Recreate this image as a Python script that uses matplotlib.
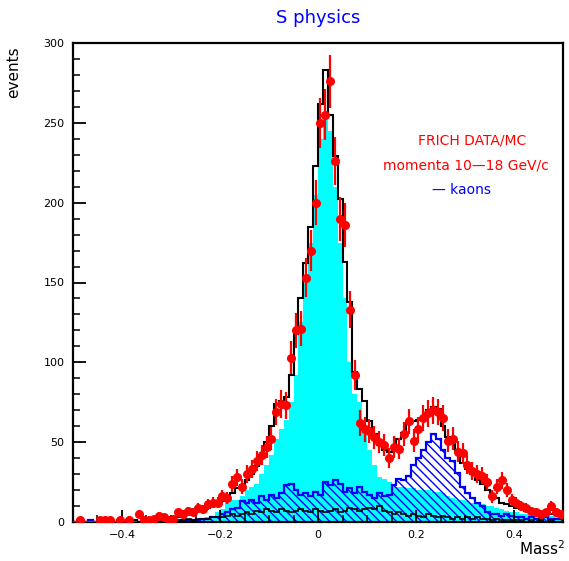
import numpy as np
import matplotlib
matplotlib.use("Agg")
import matplotlib.pyplot as plt
from matplotlib.ticker import MultipleLocator

# ---- data (100 bins of Mass^2 from -0.5 to 0.5) ----
x_range = (-0.5, 0.5)
n_bins = 100

data_counts = [
    0, 1, 0, 0, 0, 1, 1, 1, 0, 1,
    0, 1, 0, 5, 1, 1, 2, 4, 3, 1,
    2, 6, 5, 7, 6, 9, 8, 11, 12, 12,
    16, 15, 24, 28, 22, 30, 33, 38, 42, 47,
    52, 69, 74, 73, 103, 120, 121, 153, 170, 200,
    250, 255, 276, 226, 190, 186, 133, 92, 62, 58,
    57, 53, 50, 48, 40, 47, 46, 55, 63, 51,
    58, 65, 68, 70, 69, 65, 51, 52, 44, 43,
    36, 32, 30, 29, 25, 16, 22, 26, 20, 14,
    12, 10, 9, 7, 6, 5, 6, 10, 6, 5,
]

mc_total = [
    0, 1, 0, 0, 0, 0, 1, 0, 0, 1,
    0, 0, 1, 0, 1, 1, 0, 1, 1, 2,
    3, 3, 4, 5, 5, 7, 8, 9, 11, 12,
    13, 15, 18, 21, 23, 26, 30, 35, 42, 50,
    60, 74, 76, 78, 92, 118, 140, 162, 185, 223,
    262, 283, 255, 229, 202, 163, 138, 94, 83, 76,
    63, 55, 48, 45, 44, 46, 52, 56, 62, 63,
    64, 66, 70, 72, 71, 60, 53, 52, 45, 37,
    33, 30, 26, 24, 20, 17, 15, 12, 11, 10,
    9, 8, 7, 7, 6, 6, 6, 5, 5, 5,
]

pions = [
    0, 0, 0, 0, 0, 0, 0, 0, 0, 0,
    0, 0, 0, 0, 0, 0, 0, 0, 0, 0,
    0, 0, 1, 1, 1, 2, 2, 3, 4, 6,
    8, 12, 14, 14, 16, 20, 22, 24, 30, 36,
    42, 52, 58, 64, 75, 92, 125, 150, 175, 205,
    240, 255, 245, 210, 175, 140, 100, 80, 75, 58,
    45, 36, 28, 27, 25, 23, 22, 22, 21, 21,
    20, 20, 20, 19, 19, 18, 16, 15, 14, 14,
    13, 12, 12, 11, 10, 10, 9, 8, 7, 6,
    6, 5, 5, 5, 4, 4, 5, 4, 4, 4,
]

kaons = [
    0, 0, 0, 1, 0, 0, 0, 1, 0, 0,
    0, 0, 0, 0, 0, 1, 0, 0, 0, 1,
    1, 0, 1, 1, 1, 1, 2, 2, 3, 3,
    5, 6, 8, 9, 13, 12, 14, 12, 16, 14,
    17, 15, 18, 23, 24, 20, 17, 18, 16, 19,
    17, 25, 23, 26, 24, 19, 21, 18, 22, 19,
    17, 15, 18, 16, 17, 23, 27, 26, 29, 36,
    40, 45, 50, 55, 52, 45, 40, 38, 31, 22,
    18, 15, 12, 10, 6, 5, 5, 4, 5, 4,
    3, 3, 2, 3, 2, 2, 3, 2, 2, 2,
]

others = [
    0, 1, 0, 0, 0, 0, 1, 0, 0, 1,
    0, 0, 1, 0, 1, 1, 0, 1, 1, 1,
    1, 1, 1, 2, 1, 2, 2, 2, 3, 3,
    3, 4, 5, 4, 5, 6, 5, 7, 6, 8,
    7, 6, 8, 7, 6, 7, 8, 7, 6, 8,
    7, 6, 7, 8, 6, 7, 9, 8, 7, 8,
    9, 8, 10, 7, 6, 5, 6, 5, 4, 5,
    4, 3, 5, 4, 3, 4, 3, 2, 3, 2,
    3, 2, 3, 2, 2, 1, 2, 1, 1, 1,
    1, 1, 0, 1, 0, 1, 0, 1, 0, 0,
]

y_ticks = [0, 50, 100, 150, 200, 250, 300]
x_ticks = [-0.4, -0.2, 0, 0.2, 0.4]
x_tick_labels = ["\u22120.4", "\u22120.2", "0", "0.2", "0.4"]

title = "S physics"
legend_lines = ["FRICH DATA/MC", "momenta 10\u201418 GeV/c", "\u2014 kaons"]

# ---- plotting ----
edges = np.linspace(x_range[0], x_range[1], n_bins + 1)
centers = 0.5 * (edges[:-1] + edges[1:])
half_w = 0.5 * (edges[1] - edges[0])
data = np.array(data_counts, dtype=float)

plt.rcParams["hatch.linewidth"] = 1.0
fig = plt.figure(figsize=(5.69, 5.61), dpi=100)
ax = fig.add_axes([73 / 569, 39 / 561, 490 / 569, 479 / 561])

ax.stairs(pions, edges, fill=True, color="#00ffff", lw=0)
ax.stairs(kaons, edges, fill=True, facecolor="none", edgecolor="#0000ff",
          hatch="\\\\\\\\", lw=0)
ax.stairs(kaons, edges, color="#0000ff", lw=1.6)
ax.stairs(others, edges, color="black", lw=1.2)
ax.stairs(mc_total, edges, color="black", lw=1.5)

nz = data > 0
ax.errorbar(centers[nz], data[nz], yerr=np.sqrt(data[nz]), xerr=half_w,
            fmt="o", color="red", ms=5.5, elinewidth=1.6, capsize=0, zorder=5)
ax.errorbar(centers[~nz], data[~nz], xerr=half_w, fmt="none",
            color="red", elinewidth=1.6, capsize=0, zorder=5)

ax.set_xlim(*x_range)
ax.set_ylim(0, 300)
ax.set_yticks(y_ticks)
ax.yaxis.set_minor_locator(MultipleLocator(10))
ax.set_xticks(x_ticks)
ax.set_xticklabels(x_tick_labels)
ax.xaxis.set_minor_locator(MultipleLocator(0.05))
ax.tick_params(axis="both", which="major", direction="in", length=9, width=1.3,
               labelsize=8, pad=6)
ax.tick_params(axis="both", which="minor", direction="in", length=5, width=1.1)
for s in ax.spines.values():
    s.set_linewidth(1.6)

fig.text(318 / 569, 1 - 18 / 561, title, color="#0000ff", fontsize=13,
         ha="center", va="center")
fig.text(14 / 569, 1 - 72 / 561, "events", rotation=90, fontsize=11,
         ha="center", va="center")
fig.text(565 / 569, 1 - 549 / 561, "Mass$^2$", fontsize=11,
         ha="right", va="center")

ax.text(472 / 569, 1 - 140 / 561, legend_lines[0], transform=fig.transFigure,
        color="red", fontsize=10, ha="center", va="center")
ax.text(466 / 569, 1 - 165 / 561, legend_lines[1], transform=fig.transFigure,
        color="red", fontsize=10, ha="center", va="center")
ax.text(462 / 569, 1 - 190 / 561, legend_lines[2], transform=fig.transFigure,
        color="#0000ff", fontsize=10, ha="center", va="center")

fig.savefig("out.png", dpi=100)
